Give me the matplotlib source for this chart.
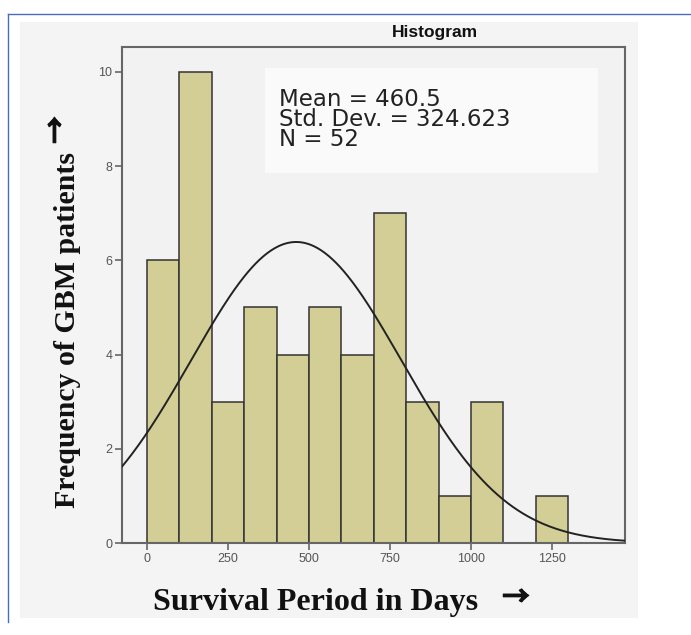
import numpy as np
import matplotlib
matplotlib.use("Agg")
import matplotlib.pyplot as plt
import matplotlib.patheffects as pe
from matplotlib.patches import Rectangle
from matplotlib.lines import Line2D

# histogram bins (days) and patient counts
bin_edges = [0, 100, 200, 300, 400, 500, 600, 700, 800, 900, 1000, 1100, 1200, 1300]
counts = [6, 10, 3, 5, 4, 5, 4, 7, 3, 1, 3, 0, 1]
mean_days = 460.5
std_days = 324.623
n_patients = 52
x_ticks = [0, 250, 500, 750, 1000, 1250]
y_ticks = [0, 2, 4, 6, 8, 10]

W, H = 691, 635
fig = plt.figure(figsize=(W / 100, H / 100), dpi=100)
fig.patch.set_facecolor("white")


def px(x, y):
    # pixel position (from top-left) -> figure fraction
    return x / W, 1 - y / H


SANS = ["Liberation Sans", "DejaVu Sans"]
SERIF = ["Liberation Serif", "DejaVu Serif"]
ARROW = ["Noto Sans CJK SC", "DejaVu Sans"]
bold_fx = [pe.withStroke(linewidth=0.7, foreground="#111111")]

# light gray panel behind everything
fig.add_artist(Rectangle(px(20, 618), 618 / W, 596 / H, transform=fig.transFigure,
                         facecolor="#f4f4f4", edgecolor="none", zorder=0))
# blue frame lines (top and left)
fig.add_artist(Line2D([8 / W, 1], [1 - 14 / H] * 2, transform=fig.transFigure,
                      color="#4a6cc0", lw=1))
fig.add_artist(Line2D([8 / W] * 2, [1 - 14 / H, 1 - 622 / H], transform=fig.transFigure,
                      color="#4a6cc0", lw=1))

ax = fig.add_axes([122 / W, 1 - 543 / H, 503 / W, 496 / H])
ax.set_facecolor("#f2f2f2")

widths = np.diff(bin_edges)
ax.bar(bin_edges[:-1], counts, width=widths, align="edge",
       color="#d3ce96", edgecolor="#333333", linewidth=1.1, zorder=2)

# fitted normal curve
x0, x1 = -77, 1475
xs = np.linspace(x0, x1, 400)
bw = widths[0]
ys = n_patients * bw / (std_days * np.sqrt(2 * np.pi)) * np.exp(-0.5 * ((xs - mean_days) / std_days) ** 2)
ax.plot(xs, ys, color="#222222", lw=1.4, zorder=3)

ax.set_xlim(x0, x1)
ax.set_ylim(0, 10.53)
ax.set_xticks(x_ticks)
ax.set_yticks(y_ticks)
ax.tick_params(direction="out", length=5, width=1.2, color="#666666",
               labelcolor="#555555", labelsize=9, pad=2)
for lab in ax.get_xticklabels() + ax.get_yticklabels():
    lab.set_family(SANS)
for sp in ax.spines.values():
    sp.set_color("#666666")
    sp.set_linewidth(1.5)

# stats box
fig.add_artist(Rectangle(px(265, 173), 333 / W, 105 / H, transform=fig.transFigure,
                         facecolor="#fafafa", edgecolor="none", zorder=4))
stats = f"Mean = {mean_days}\nStd. Dev. = {std_days}\nN = {n_patients}"
fig.text(*px(279, 88), stats, family=["DejaVu Sans"], fontsize=16.5, linespacing=0.83,
         color="#222222", va="top", ha="left", zorder=5)

fig.text(*px(435, 37), "Histogram", family=SANS, fontweight="bold",
         fontsize=12.5, color="#111111", ha="center", va="baseline")

fig.text(*px(153, 610), "Survival Period in Days", family=SERIF, fontweight="bold",
         fontsize=23, color="#111111", ha="left", va="baseline")
fig.text(*px(516, 598), "\u2192", family=ARROW, fontweight="bold",
         fontsize=20, color="#111111", ha="center", va="center", path_effects=bold_fx)

fig.text(*px(75, 508), "Frequency of GBM patients", family=SERIF, fontweight="bold",
         fontsize=21.5, color="#111111", ha="left", va="baseline",
         rotation=90, rotation_mode="anchor")
fig.text(*px(57, 130), "\u2192", family=ARROW, fontweight="bold",
         fontsize=20, color="#111111", ha="center", va="center", rotation=90,
         path_effects=bold_fx)

fig.savefig("out.png", dpi=100, facecolor=fig.get_facecolor())
